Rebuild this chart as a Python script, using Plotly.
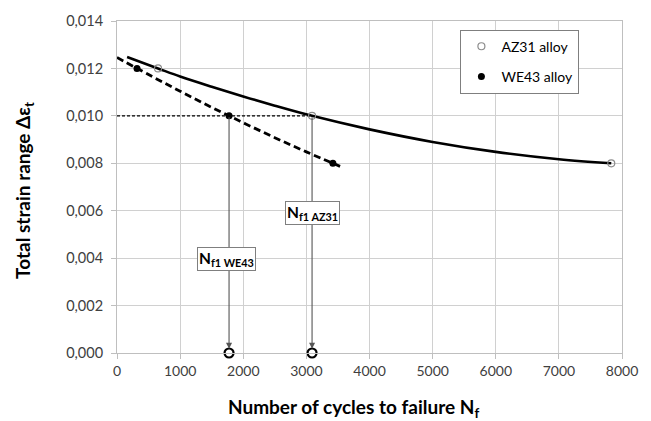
import plotly.graph_objects as go

# ---- data ----
az31_x = [650, 3090, 7830]
az31_y = [0.0120, 0.0100, 0.0080]
we43_x = [317, 1775, 3420]
we43_y = [0.0120, 0.0100, 0.0080]

# trend curves
az31_curve_x = [160, 650, 1000, 1500, 2000, 2500, 3090, 4000, 5000, 6000, 7000, 7830]
az31_curve_y = [0.01248, 0.01200, 0.01166, 0.01123, 0.01082, 0.01043, 0.01000, 0.00943, 0.00890, 0.00848, 0.00817, 0.00800]
we43_curve_x = [0, 500, 1000, 1500, 2000, 2500, 3000, 3534]
we43_curve_y = [0.01246, 0.01174, 0.01104, 0.01036, 0.00971, 0.00908, 0.00848, 0.00787]

level = 0.010
nf_x = [1775, 3090]
nf_labels = ["N<sub>f1 WE43</sub>", "N<sub>f1 AZ31</sub>"]
nf_label_y = [0.00395, 0.00590]
nf_label_x = [1740, 3090]

FONT = "Lato"
fig = go.Figure()

fig.add_trace(go.Scatter(x=az31_curve_x, y=az31_curve_y, mode="lines", line_shape="spline",
                         line=dict(color="black", width=2.6), showlegend=False, hoverinfo="skip"))
fig.add_trace(go.Scatter(x=we43_curve_x, y=we43_curve_y, mode="lines", line_shape="spline",
                         line=dict(color="black", width=2.8, dash="7px,4px"),
                         showlegend=False, hoverinfo="skip"))
# horizontal reference line
fig.add_trace(go.Scatter(x=[0, nf_x[1]], y=[level, level], mode="lines",
                         line=dict(color="black", width=1.3, dash="3px,2px"),
                         showlegend=False, hoverinfo="skip"))

fig.add_trace(go.Scatter(x=az31_x, y=az31_y, mode="markers", name="AZ31 alloy",
                         marker=dict(symbol="circle-open", size=7, color="#8c8c8c", line=dict(width=1.2)),
                         legendgroup="a"))
fig.add_trace(go.Scatter(x=we43_x, y=we43_y, mode="markers", name="WE43 alloy",
                         marker=dict(symbol="circle", size=7, color="black"),
                         legendgroup="b"))
# Nf markers on the x axis
fig.add_trace(go.Scatter(x=nf_x, y=[0, 0], mode="markers", cliponaxis=False,
                         marker=dict(symbol="circle-open", size=9, color="black", line=dict(width=2.2)),
                         showlegend=False, hoverinfo="skip"))

for xv in nf_x:
    fig.add_annotation(x=xv, y=0.00018, ax=xv, ay=level, xref="x", yref="y", axref="x", ayref="y",
                       showarrow=True, arrowhead=2, arrowsize=1.1, arrowwidth=1.1, arrowcolor="#555555",
                       text="")

for lx, ly, lt in zip(nf_label_x, nf_label_y, nf_labels):
    fig.add_annotation(x=lx, y=ly, xref="x", yref="y", text="<b>" + lt + "</b>", showarrow=False,
                       font=dict(family=FONT, size=15.5, color="black"), bgcolor="white",
                       bordercolor="#7f7f7f", borderwidth=1, borderpad=1)

# axis titles
fig.add_annotation(x=0.468, y=-0.165, xref="paper", yref="paper", showarrow=False,
                   text="<b>Number of cycles to failure N<sub>f</sub></b>",
                   font=dict(family=FONT, size=19, color="black"), yanchor="middle")
fig.add_annotation(x=-0.183, y=0.49, xref="paper", yref="paper", showarrow=False, textangle=-90,
                   text="<b>Total strain range Δε<sub>t</sub></b>",
                   font=dict(family=FONT, size=19, color="black"), xanchor="center", yanchor="middle")

fig.update_layout(
    width=651, height=421,
    margin=dict(l=117, r=29, t=15, b=68),
    paper_bgcolor="white", plot_bgcolor="white",
    separators=", ",
    font=dict(family=FONT, size=14, color="#404040"),
    legend=dict(x=0.68, y=0.974, xanchor="left", yanchor="top",
                bordercolor="#7f7f7f", borderwidth=1, bgcolor="white",
                font=dict(family=FONT, size=14, color="black"),
                traceorder="grouped", tracegroupgap=9, entrywidth=82, itemwidth=30),
)
fig.update_xaxes(range=[0, 8000], dtick=1000, tick0=0, showgrid=True, gridcolor="#d0d0d0",
                 showline=True, linecolor="#bfbfbf", mirror=True, zeroline=False,
                 ticks="outside", ticklen=5, tickcolor="#bfbfbf", tickfont=dict(size=14))
fig.update_yaxes(range=[0, 0.014], dtick=0.002, tick0=0, tickformat=".3f", showgrid=True,
                 gridcolor="#d0d0d0", showline=True, linecolor="#bfbfbf", mirror=True, zeroline=False,
                 ticks="outside", ticklen=5, tickcolor="#bfbfbf", tickfont=dict(size=14.5),
                 ticklabelstandoff=5)

fig.write_html("out.html")
